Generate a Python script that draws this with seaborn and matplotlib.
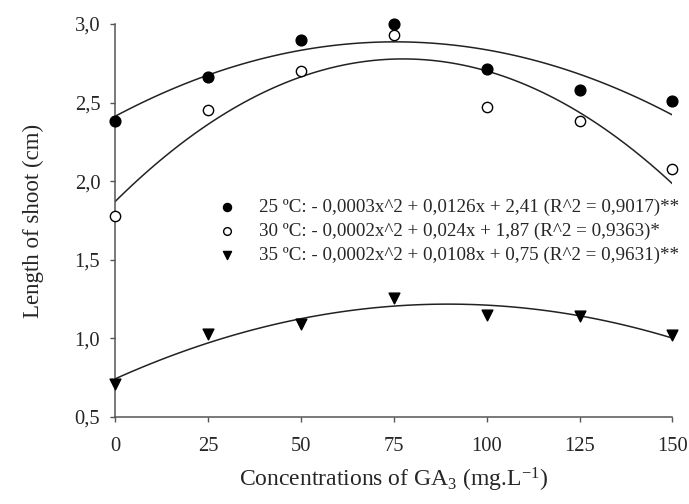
import matplotlib
matplotlib.use("Agg")
import matplotlib.pyplot as plt
import seaborn as sns
import pandas as pd
from matplotlib.ticker import FuncFormatter

concentrations = [0, 25, 50, 75, 100, 125, 150]
shoot_25 = [2.38, 2.66, 2.90, 3.00, 2.71, 2.58, 2.51]
shoot_30 = [1.78, 2.45, 2.70, 2.93, 2.47, 2.38, 2.08]
shoot_35 = [0.71, 1.03, 1.09, 1.26, 1.15, 1.14, 1.02]
labels = [
    "25 ºC: - 0,0003x^2 + 0,0126x + 2,41 (R^2 = 0,9017)**",
    "30 ºC: - 0,0002x^2 + 0,024x + 1,87 (R^2 = 0,9363)*",
    "35 ºC: - 0,0002x^2 + 0,0108x + 0,75 (R^2 = 0,9631)**",
]
x_ticks = [0, 25, 50, 75, 100, 125, 150]
y_ticks = [0.5, 1.0, 1.5, 2.0, 2.5, 3.0]

sns.set_style("ticks")
plt.rcParams["font.family"] = ["Liberation Serif", "DejaVu Serif"]
plt.rcParams["mathtext.fontset"] = "custom"
plt.rcParams["mathtext.rm"] = "Liberation Serif"
plt.rcParams["mathtext.it"] = "Liberation Serif:italic"
plt.rcParams["mathtext.bf"] = "Liberation Serif:bold"

fig = plt.figure(figsize=(6.89, 5.04), dpi=100)
ax = fig.add_axes([0.167, 0.1726, 0.809, 0.780])

series = [
    (shoot_25, dict(marker="o", facecolor="black", edgecolor="black", s=60)),
    (shoot_30, dict(marker="o", facecolor="white", edgecolor="black", s=55)),
    (shoot_35, dict(marker="v", facecolor="black", edgecolor="black", s=60)),
]

handles = []
for (vals, style), lab in zip(series, labels):
    df = pd.DataFrame({"x": concentrations, "y": vals})
    sns.regplot(data=df, x="x", y="y", order=2, ci=None, scatter=False, ax=ax,
                line_kws=dict(color="#222222", lw=1.1))
    h = ax.scatter(df["x"], df["y"], marker=style["marker"], s=style["s"],
                   facecolors=style["facecolor"], edgecolors=style["edgecolor"],
                   linewidths=1.0, zorder=5, clip_on=False, label=lab)
    handles.append(h)

ax.set_xlim(0, 150)
ax.set_ylim(0.5, 3.0)
ax.set_xticks(x_ticks)
ax.set_yticks(y_ticks)
ax.yaxis.set_major_formatter(FuncFormatter(lambda v, p: f"{v:.1f}".replace(".", ",")))
ax.tick_params(axis="both", labelsize=14.8, length=3.6, width=1, color="#555555", direction="out")
ax.tick_params(axis="x", pad=11)
ax.tick_params(axis="y", pad=7)
for s in ["top", "right"]:
    ax.spines[s].set_visible(False)
for s in ["left", "bottom"]:
    ax.spines[s].set_color("#555555")
    ax.spines[s].set_linewidth(1.1)

ax.set_xlabel("Concentrations of GA$_\\mathrm{3}$ (mg.L$^\\mathrm{-1}$)", fontsize=17, labelpad=7)
ax.set_ylabel("Length of shoot (cm)", fontsize=16.5, labelpad=22)

leg = ax.legend(handles=handles, labels=labels, loc="upper left",
                bbox_to_anchor=(0.181, 0.555), frameon=False, fontsize=13.7,
                handletextpad=1.08, labelspacing=0.35, handlelength=1.2,
                borderpad=0, borderaxespad=0, markerscale=0.75)

fig.savefig("out.png", dpi=100)
